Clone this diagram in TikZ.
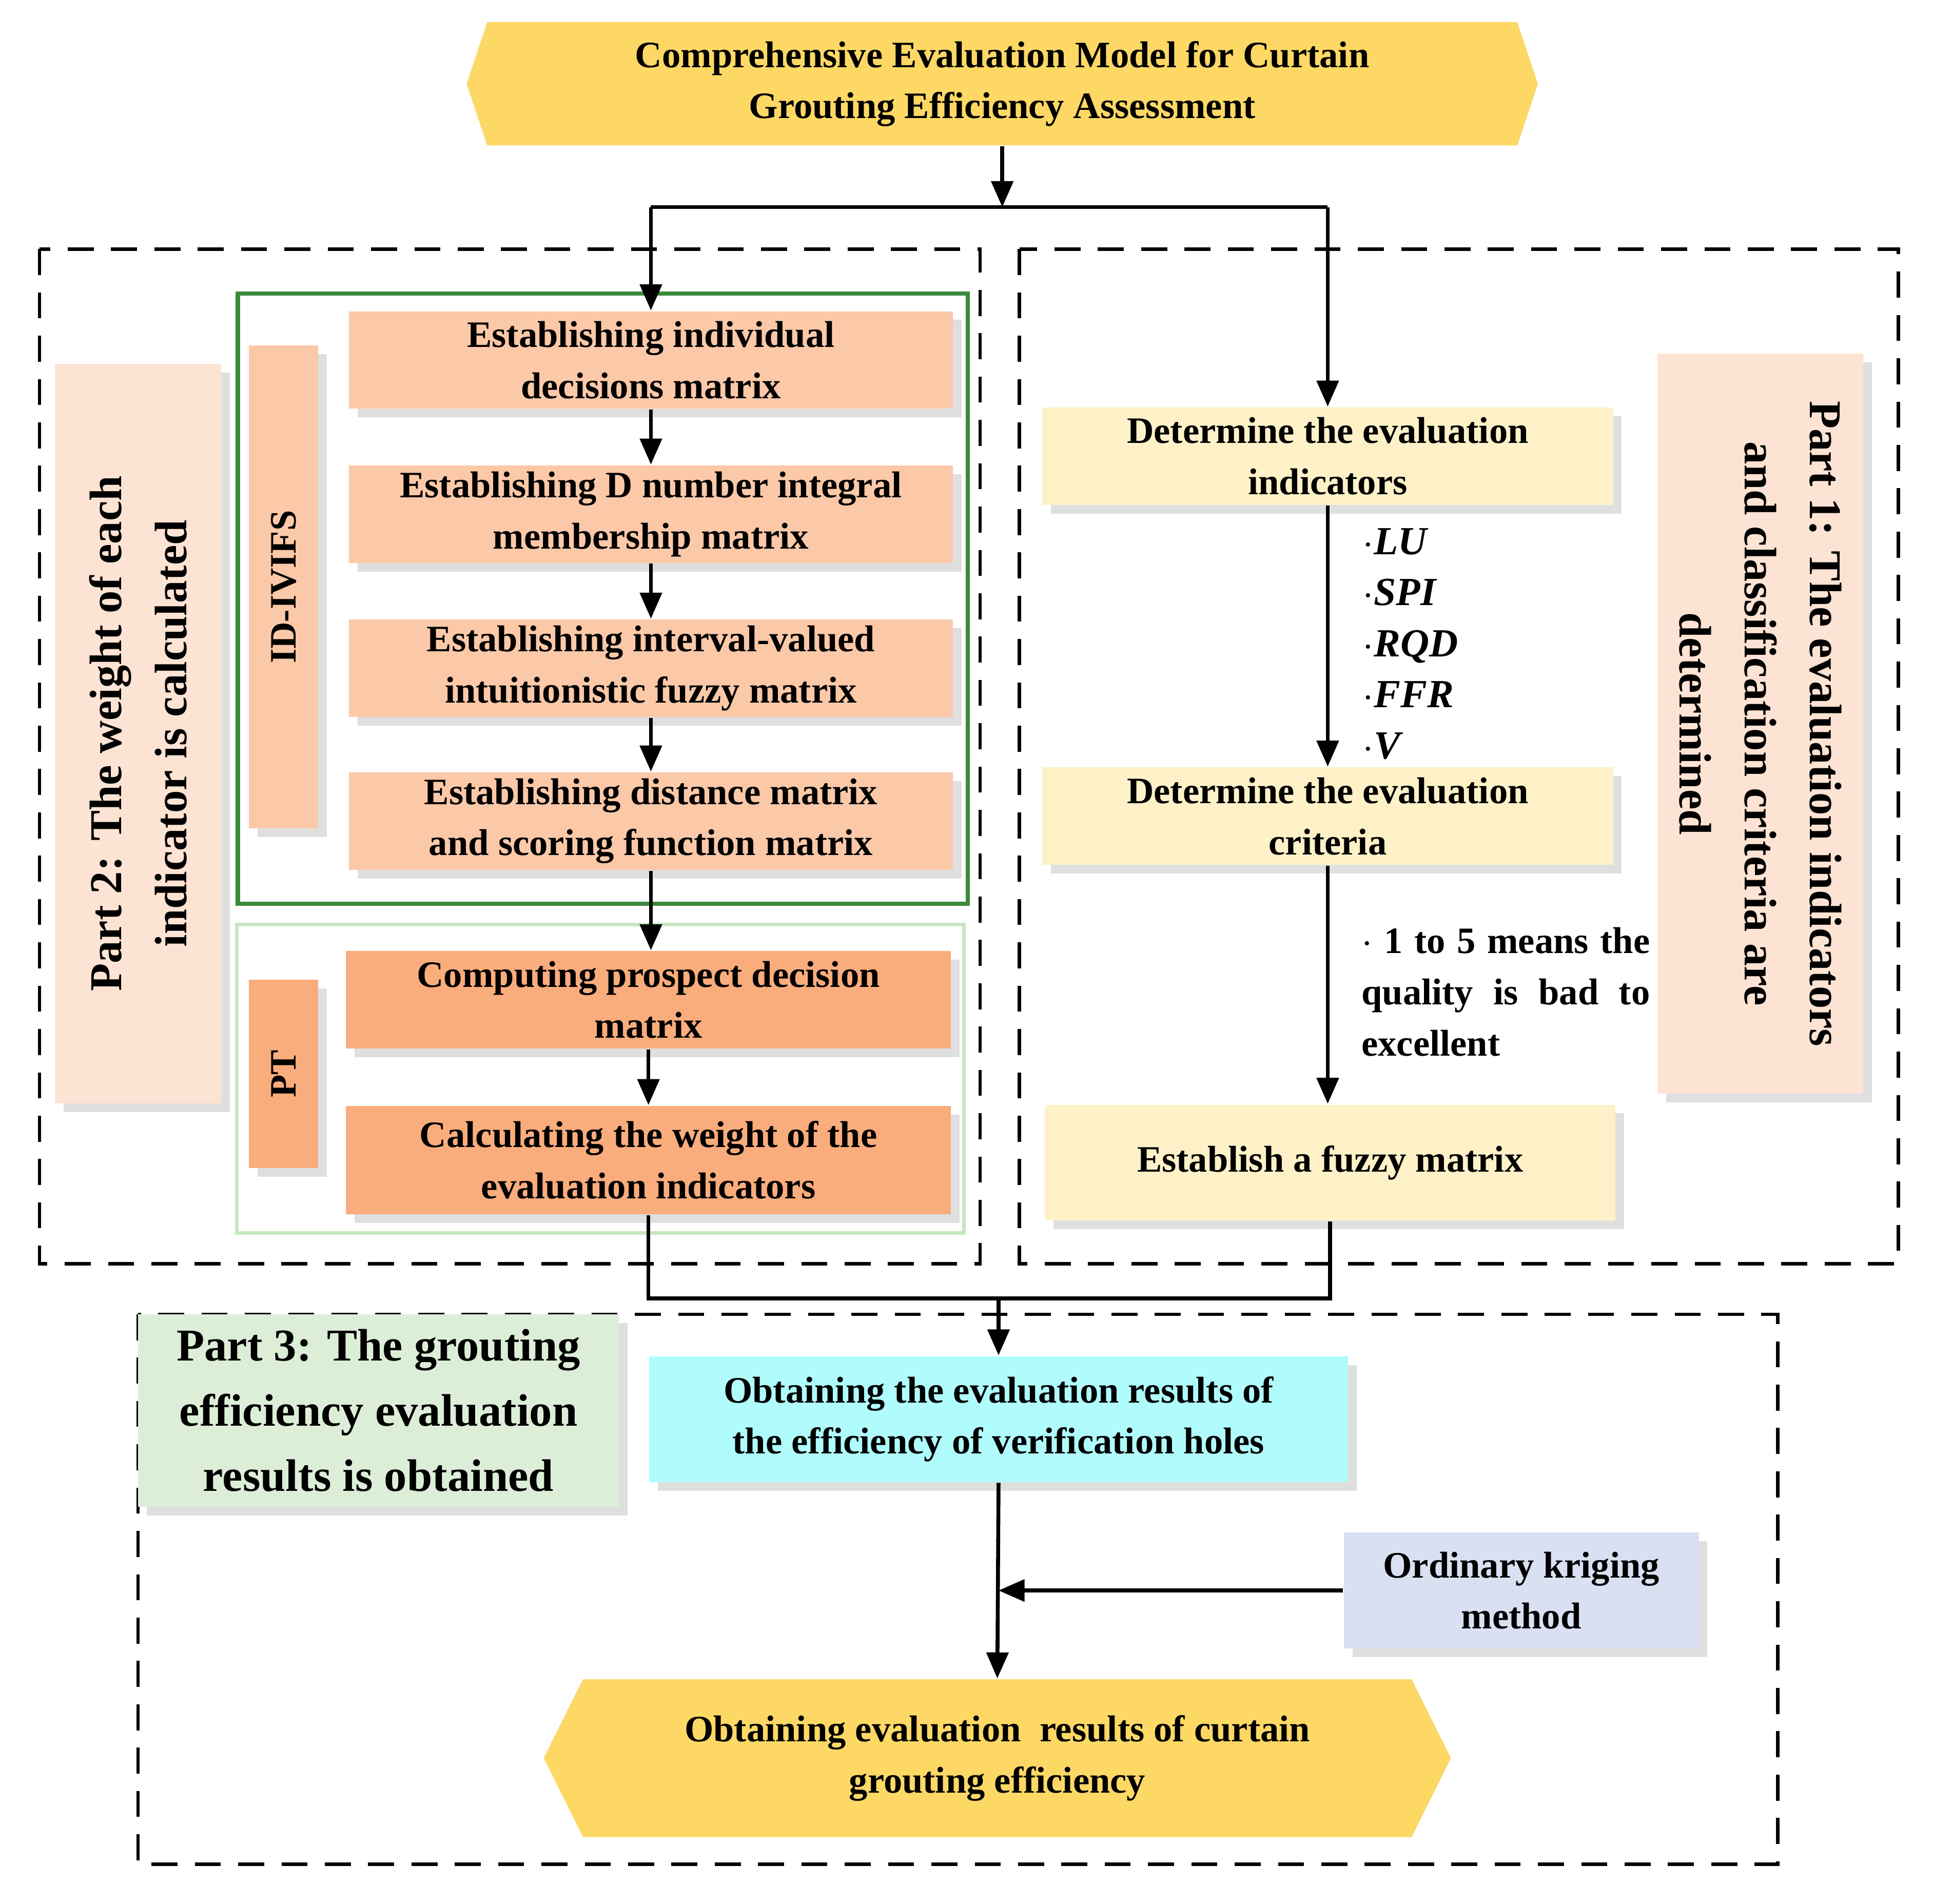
\documentclass[tikz,border=0pt]{standalone}
\usepackage{fontspec}
\setmainfont{Liberation Serif}
\usetikzlibrary{shapes.symbols,shadows,arrows.meta}
\definecolor{gold}{HTML}{FDD865}
\definecolor{peach}{HTML}{FBC8A8}
\definecolor{orng}{HTML}{F9AC7C}
\definecolor{lpeach}{HTML}{FDE3D3}
\definecolor{cream}{HTML}{FEF1C8}
\definecolor{lgreen}{HTML}{DDEED8}
\definecolor{cyanb}{HTML}{B0FCFC}
\definecolor{lblue}{HTML}{D8E0F2}
\begin{document}
\begin{tikzpicture}[x=0.1mm,y=-0.1mm,
  txt/.style={font=\fontsize{8.6}{11.8}\selectfont\bfseries,align=center},
  box/.style={txt,draw=none,inner sep=0,drop shadow={opacity=0.25,shadow xshift=2pt,shadow yshift=-2pt}},
  hexa/.style={txt,shape=signal,signal to=east and west,signal pointer angle=143,fill=gold,inner sep=0},
  arr/.style={-{Triangle[length=6pt,width=5pt]},line width=0.9pt},
  ln/.style={line width=0.9pt},
  dsh/.style={line width=0.8pt,dash pattern=on 6pt off 4pt}]
\useasboundingbox (0,0) rectangle (1568,1544);
% top
\node[hexa,minimum width=86.9mm,minimum height=10mm] (top) at (813,68) {Comprehensive Evaluation Model for Curtain\\Grouting Efficiency Assessment};
% dashed boxes
\draw[dsh] (32,202) rectangle (795,1025);
\draw[dsh] (827,202) rectangle (1540,1025);
\draw[dsh] (112,1066) rectangle (1442,1512);
% Part2 label
\node[box,fill=lpeach,minimum width=60mm,minimum height=13.5mm,rotate=90,font=\fontsize{10.5}{15}\selectfont\bfseries] (p2) at (112,595) {Part 2: The weight of each\\indicator is calculated};
\draw[line width=1pt,draw={rgb,255:red,58;green,138;blue,58}] (193,238) rectangle (785,733);
\draw[line width=0.8pt,draw={rgb,255:red,200;green,230;blue,192}] (192,750) rectangle (782,1000);
\node[box,fill=peach,minimum width=39.2mm,minimum height=5.6mm,rotate=90] (id) at (230,476) {ID-IVIFS};
\node[box,fill=orng,minimum width=15.3mm,minimum height=5.6mm,rotate=90] (pt) at (230,871) {PT};
\node[box,fill=peach,minimum width=49mm,minimum height=7.9mm] (b1) at (528,292) {Establishing individual\\decisions matrix};
\node[box,fill=peach,minimum width=49mm,minimum height=7.9mm] (b2) at (528,417) {Establishing D number integral\\membership matrix};
\node[box,fill=peach,minimum width=49mm,minimum height=7.9mm] (b3) at (528,542) {Establishing interval-valued\\intuitionistic fuzzy matrix};
\node[box,fill=peach,minimum width=49mm,minimum height=7.9mm] (b4) at (528,666) {Establishing distance matrix\\and scoring function matrix};
\node[box,fill=orng,minimum width=49.1mm,minimum height=7.9mm] (b5) at (526,811) {Computing prospect decision\\matrix};
\node[box,fill=orng,minimum width=49.1mm,minimum height=8.8mm] (b6) at (526,941) {Calculating the weight of the\\evaluation indicators};
\draw[arr] (b1) -- (b2);
\draw[arr] (b2) -- (b3);
\draw[arr] (b3) -- (b4);
\draw[arr] (b4.south) -- (b4.south |- b5.north);
\draw[arr] (b5) -- (b6);
% right
\node[box,fill=cream,minimum width=46.3mm,minimum height=7.9mm] (r1) at (1077,370) {Determine the evaluation\\indicators};
\node[box,fill=cream,minimum width=46.3mm,minimum height=7.9mm] (r2) at (1077,662) {Determine the evaluation\\criteria};
\node[box,fill=cream,minimum width=46.3mm,minimum height=9.4mm] (r3) at (1079,943) {Establish a fuzzy matrix};
\draw[arr] (r1) -- (r2);
\draw[arr] (r2) -- (r2.south |- r3.north);
\node[txt,anchor=north west,align=left,font=\fontsize{9.2}{11.8}\selectfont\bfseries\itshape] (ind) at (1093,416) {$\cdot$LU\\$\cdot$SPI\\$\cdot$RQD\\$\cdot$FFR\\$\cdot$V};
\node[txt,anchor=north west,align=justify,text width=23.4mm] (crit) at (1092,740) {$\cdot$ 1 to 5 means the quality is bad to excellent};
\node[box,fill=lpeach,minimum width=60mm,minimum height=16.7mm,rotate=-90,font=\fontsize{10.5}{15}\selectfont\bfseries] (p1) at (1428,587) {Part 1: The evaluation indicators\\and classification criteria are\\determined};
% top connections
\coordinate (j0) at (813,168);
\draw[arr] (top.south) -- (j0);
\draw[ln] (b1.north |- j0) -- (r1.north |- j0);
\draw[arr] (b1.north |- j0) -- (b1.north);
\draw[arr] (r1.north |- j0) -- (r1.north);
% part 3
\node[box,fill=lgreen,minimum width=39mm,minimum height=15.6mm,font=\fontsize{10.5}{15}\selectfont\bfseries] (p3) at (307,1144) {Part 3: The grouting\\efficiency evaluation\\results is obtained};
\node[box,fill=cyanb,minimum width=56.7mm,minimum height=10.2mm] (c) at (810,1151) {Obtaining the evaluation results of\\the efficiency of verification holes};
\node[box,fill=lblue,minimum width=28.8mm,minimum height=9.4mm] (k) at (1234,1290) {Ordinary kriging\\method};
\node[hexa,minimum width=73.6mm,minimum height=12.8mm,signal pointer angle=127] (bot) at (809,1426) {Obtaining evaluation\ \ results of curtain\\grouting efficiency};
\coordinate (m) at (810,1053);
\draw[ln] (b6.south) -- (b6.south |- m) -- (r3.south |- m) -- (r3.south);
\draw[arr] (m) -- (c.north);
\draw[arr] (c.south) -- (bot.north);
\draw[arr] (k.west) -- (c.south |- k.west);
\end{tikzpicture}
\end{document}
